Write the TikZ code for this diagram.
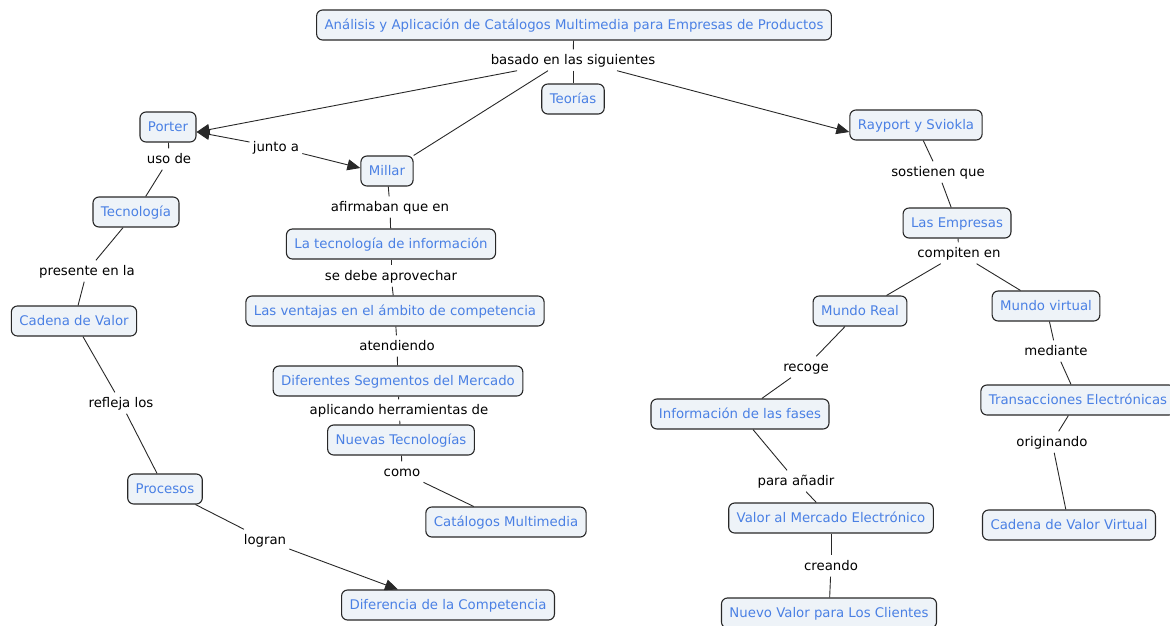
\documentclass[tikz,border=0pt]{standalone}
\usepackage{fontspec}
\setmainfont{DejaVu Sans}
\usetikzlibrary{arrows.meta}
\definecolor{cfill}{RGB}{238,243,248}
\definecolor{ctext}{RGB}{74,128,228}
\definecolor{cline}{RGB}{40,40,40}
\newcommand{\cmapfont}{\fontsize{13.3}{15}\selectfont}
\tikzset{
  concept/.style={draw=cline, line width=1.1pt, rounded corners=6pt, fill=cfill,
    text=ctext, inner xsep=8pt, inner ysep=0pt, minimum height=30pt,
    text height=12pt, text depth=3pt, font=\cmapfont},
  linkphrase/.style={inner xsep=3pt, inner ysep=3pt, text height=12pt, text depth=3pt,
    font=\cmapfont, text=black},
  conn/.style={draw=cline, line width=0.9pt},
  arr/.style={conn, -{Triangle[length=13pt,width=11pt]}}
}
\begin{document}
\begin{tikzpicture}[x=1pt,y=-1pt]
\useasboundingbox (0,0) rectangle (1170,625);

% concepts
\node[concept] (title) at (574,25) {Análisis y Aplicación de Catálogos Multimedia para Empresas de Productos};
\node[concept] (teorias) at (573,99) {Teorías};
\node[concept] (porter) at (168,127) {Porter};
\node[concept] (millar) at (387,171) {Millar};
\node[concept] (rayport) at (916,125) {Rayport y Sviokla};
\node[concept] (tecno) at (136,212) {Tecnología};
\node[concept] (cadena) at (74,321) {Cadena de Valor};
\node[concept] (procesos) at (165,489) {Procesos};
\node[concept] (diferencia) at (448,605) {Diferencia de la Competencia};
\node[concept] (latec) at (391,244) {La tecnología de información};
\node[concept] (ventajas) at (395,311) {Las ventajas en el ámbito de competencia};
\node[concept] (segmentos) at (398,381) {Diferentes Segmentos del Mercado};
\node[concept] (nuevas) at (401,440) {Nuevas Tecnologías};
\node[concept] (catalogos) at (506,522) {Catálogos Multimedia};
\node[concept] (empresas) at (957,223) {Las Empresas};
\node[concept] (real) at (860,311) {Mundo Real};
\node[concept] (virtual) at (1046,306) {Mundo virtual};
\node[concept] (info) at (740,414) {Información de las fases};
\node[concept] (valor) at (831,518) {Valor al Mercado Electrónico};
\node[concept] (nuevo) at (829,613) {Nuevo Valor para Los Clientes};
\node[concept] (trans) at (1078,400) {Transacciones Electrónicas};
\node[concept] (cvv) at (1069,525) {Cadena de Valor Virtual};

% linking phrases
\node[linkphrase] (basado) at (573,60) {basado en las siguientes};
\node[linkphrase] (junto) at (276,147) {junto a};
\node[linkphrase] (uso) at (169,159) {uso de};
\node[linkphrase] (presente) at (87,271) {presente en la};
\node[linkphrase] (refleja) at (121,403) {refleja los};
\node[linkphrase] (logran) at (265,540) {logran};
\node[linkphrase] (afirmaban) at (390,207) {afirmaban que en};
\node[linkphrase] (sedebe) at (391,276) {se debe aprovechar};
\node[linkphrase] (atendiendo) at (397,346) {atendiendo};
\node[linkphrase] (aplicando) at (399,410) {aplicando herramientas de};
\node[linkphrase] (como) at (402,472) {como};
\node[linkphrase] (sostienen) at (938,172) {sostienen que};
\node[linkphrase] (compiten) at (959,253) {compiten en};
\node[linkphrase] (recoge) at (806,367) {recoge};
\node[linkphrase] (para) at (796,481) {para añadir};
\node[linkphrase] (creando) at (831,566) {creando};
\node[linkphrase] (mediante) at (1056,351) {mediante};
\node[linkphrase] (originando) at (1052,442) {originando};

% connectors
\draw[conn] (title) -- (basado);
\draw[conn] (basado) -- (teorias);
\draw[arr] (basado) -- ([yshift=-5pt]porter.east);
\draw[conn] ([xshift=-25pt]basado.south) -- (millar.north east);
\draw[arr] ([xshift=44pt]basado.south) -- ([yshift=-7pt]rayport.west);
\draw[arr] (junto) -- ([yshift=-5pt]porter.east);
\draw[arr] (junto) -- ([yshift=3pt]millar.west);
\draw[conn] (porter) -- (uso);
\draw[conn] (uso) -- (tecno);
\draw[conn] (tecno) -- (presente);
\draw[conn] (presente) -- (cadena);
\draw[conn] (cadena) -- (refleja);
\draw[conn] (refleja) -- (procesos);
\draw[conn] (procesos) -- (logran);
\draw[arr] (logran) -- ([xshift=-50pt]diferencia.north);
\draw[conn] (millar) -- (afirmaban);
\draw[conn] (afirmaban) -- (latec);
\draw[conn] (latec) -- (sedebe);
\draw[conn] (sedebe) -- (ventajas);
\draw[conn] (ventajas) -- (atendiendo);
\draw[conn] (atendiendo) -- (segmentos);
\draw[conn] (segmentos) -- (aplicando);
\draw[conn] (aplicando) -- (nuevas);
\draw[conn] (nuevas) -- (como);
\draw[conn] (como) -- (catalogos);
\draw[conn] (rayport) -- (sostienen);
\draw[conn] (sostienen) -- (empresas);
\draw[conn] (empresas) -- (compiten);
\draw[conn] (compiten) -- (real);
\draw[conn] (compiten) -- (virtual);
\draw[conn] (real) -- (recoge);
\draw[conn] (recoge) -- (info);
\draw[conn] (info) -- (para);
\draw[conn] (para) -- (valor);
\draw[conn] (valor) -- (creando);
\draw[conn] (creando) -- (nuevo);
\draw[conn] (virtual) -- (mediante);
\draw[conn] (mediante) -- (trans);
\draw[conn] (trans) -- (originando);
\draw[conn] (originando) -- (cvv);
\end{tikzpicture}
\end{document}
